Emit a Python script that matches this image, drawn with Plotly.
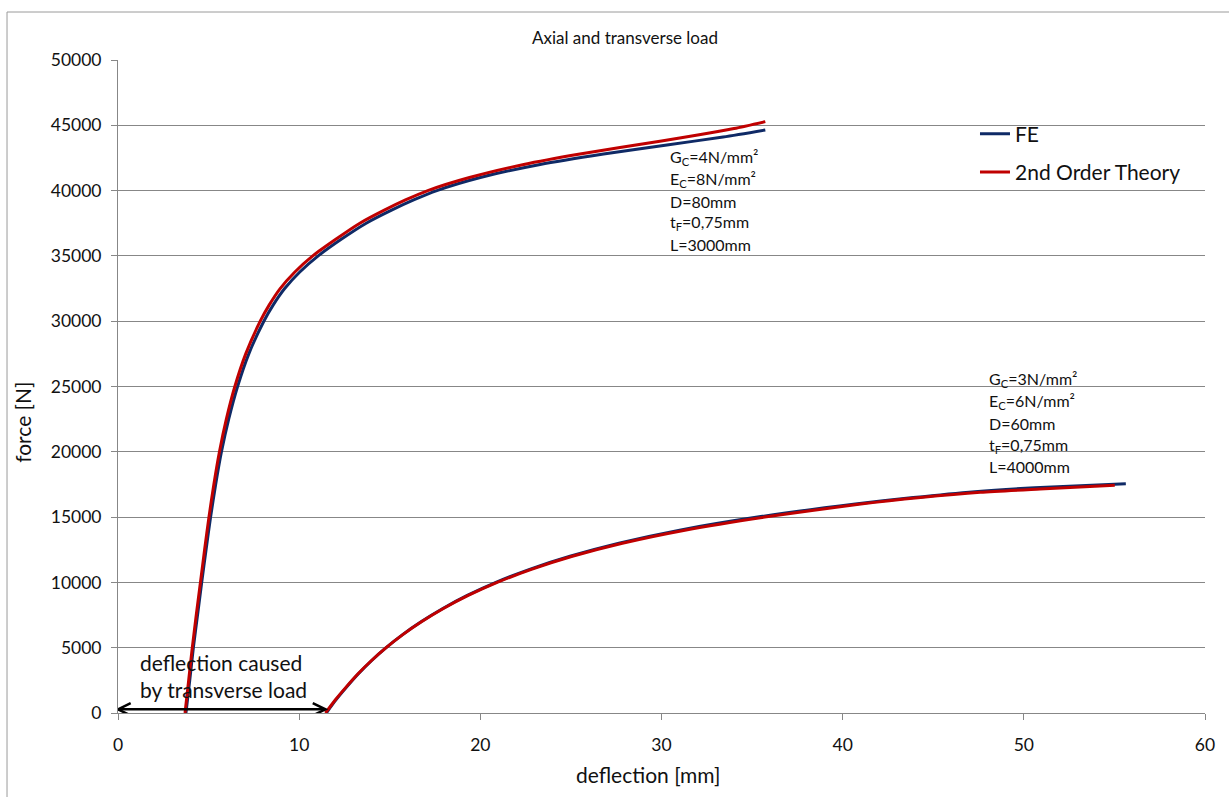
import plotly.graph_objects as go

# Sandwich column A: G_C=4, E_C=8, D=80, L=3000
fe_a_x = [3.75, 3.96, 4.16, 4.39, 4.62, 4.86, 5.11, 5.39, 5.71, 6.11, 6.60, 7.22, 8.05,
          8.57, 9.2, 10.02, 11.05, 12.3, 13.7, 15.1, 16.35, 17.6, 20.0, 23.3, 26.8, 30.3,
          33.4, 35.73]
fe_a_y = [0, 2500, 5000, 7500, 10000, 12500, 15000, 17500, 20000, 22500, 25000, 27500, 30000,
          31250, 32500, 33750, 35000, 36250, 37500, 38500, 39300, 40000, 41000, 42000, 42800, 43500,
          44100, 44640]
th_a_x = [3.70, 3.90, 4.10, 4.32, 4.55, 4.78, 5.02, 5.29, 5.60, 5.98, 6.45, 7.05, 7.85,
          8.35, 8.95, 9.75, 10.75, 12.0, 13.35, 14.7, 15.9, 17.1, 19.4, 22.4, 25.5, 30.0,
          32.0, 34.0, 35.73]
th_a_y = [0, 2500, 5000, 7500, 10000, 12500, 15000, 17500, 20000, 22500, 25000, 27500, 30000,
          31250, 32500, 33750, 35000, 36250, 37500, 38500, 39300, 40000, 41000, 42000, 42800, 43800,
          44250, 44750, 45280]

# Sandwich column B: G_C=3, E_C=6, D=60, L=4000
fe_b_x = [11.5, 12.03, 12.63, 13.27, 13.99, 14.8, 15.71, 16.75, 17.93, 19.28, 20.86, 22.72,
          24.95, 27.65, 31.0, 35.3, 40.7, 43.9, 47.3, 50.6, 55.63]
fe_b_y = [0, 1000, 2000, 3000, 4000, 5000, 6000, 7000, 8000, 9000, 10000, 11000,
          12000, 13000, 14000, 15000, 16000, 16500, 16950, 17250, 17560]
th_b_x = [11.45, 11.99, 12.6, 13.25, 13.98, 14.8, 15.72, 16.77, 17.96, 19.33, 20.93, 22.82,
          25.08, 27.84, 31.29, 35.7, 41.0, 44.3, 47.6, 50.9, 55.02]
th_b_y = [0, 1000, 2000, 3000, 4000, 5000, 6000, 7000, 8000, 9000, 10000, 11000,
          12000, 13000, 14000, 15000, 16000, 16500, 16900, 17150, 17430]

x_ticks = [0, 10, 20, 30, 40, 50, 60]
y_ticks = [0, 5000, 10000, 15000, 20000, 25000, 30000, 35000, 40000, 45000, 50000]

params_a = ["G<sub>C</sub>=4N/mm²", "E<sub>C</sub>=8N/mm²", "D=80mm", "t<sub>F</sub>=0,75mm", "L=3000mm"]
params_b = ["G<sub>C</sub>=3N/mm²", "E<sub>C</sub>=6N/mm²", "D=60mm", "t<sub>F</sub>=0,75mm", "L=4000mm"]

FE_COLOR = "#0f2a66"
TH_COLOR = "#c00000"
GRID = "#878787"
FONT = "Lato"
TEXT = "#111111"

fig = go.Figure()

def add_curve(x, y, color, name, show):
    fig.add_trace(go.Scatter(
        x=x, y=y, mode="lines", name=name, legendgroup=name, showlegend=show,
        line=dict(color=color, width=3, shape="spline", smoothing=0.7),
        hoverinfo="skip",
    ))

add_curve(fe_a_x, fe_a_y, FE_COLOR, "FE", True)
add_curve(fe_b_x, fe_b_y, FE_COLOR, "FE", False)
add_curve(th_a_x, th_a_y, TH_COLOR, "2nd Order Theory", True)
add_curve(th_b_x, th_b_y, TH_COLOR, "2nd Order Theory", False)

annotations = []

# parameter blocks next to each pair of curves
def add_params(lines, x0, y_top, step):
    for i, t in enumerate(lines):
        annotations.append(dict(
            x=x0, y=y_top - i * step, xref="x", yref="y", text=t, showarrow=False,
            xanchor="left", yanchor="middle", font=dict(family=FONT, size=16, color=TEXT),
        ))

add_params(params_a, 30.35, 42500, 1650)
add_params(params_b, 47.96, 25500, 1665)

annotations.append(dict(
    x=1.1, y=2830, xref="x", yref="y", xanchor="left", yanchor="middle",
    text="deflection caused<br>by transverse load", showarrow=False, align="left",
    font=dict(family=FONT, size=21, color=TEXT),
))

annotations.append(dict(
    x=0.4664, y=1.0337, xref="paper", yref="paper", text="Axial and transverse load",
    xanchor="center", yanchor="middle",
    showarrow=False, font=dict(family=FONT, size=17, color=TEXT),
))
annotations.append(dict(
    x=0.4876, y=-0.0949, xref="paper", yref="paper", text="deflection [mm]",
    xanchor="center", yanchor="middle",
    showarrow=False, font=dict(family=FONT, size=21, color=TEXT),
))
annotations.append(dict(
    x=-0.0885, y=0.4456, xref="paper", yref="paper", text="force [N]", textangle=-90,
    xanchor="center", yanchor="middle",
    showarrow=False, font=dict(family=FONT, size=21, color=TEXT),
))

# double-headed arrow spanning the initial deflection of column B
x_start = th_b_x[0]
ya = 280
hx, hy = 0.7, 470
shapes = [
    dict(type="line", xref="x", yref="y", x0=0, x1=x_start, y0=ya, y1=ya,
         line=dict(color="black", width=2.5)),
    dict(type="path", xref="x", yref="y",
         path=f"M {hx},{ya + hy} L 0,{ya} L {hx},{ya - hy}",
         line=dict(color="black", width=2.5)),
    dict(type="path", xref="x", yref="y",
         path=f"M {x_start - hx},{ya + hy} L {x_start},{ya} L {x_start - hx},{ya - hy}",
         line=dict(color="black", width=2.5)),
    # outer chart frame
    dict(type="line", xref="paper", yref="paper", x0=-0.1021, x1=-0.1021, y0=-0.3, y1=1.0735,
         line=dict(color="#9a9a9a", width=1)),
    dict(type="line", xref="paper", yref="paper", x0=-0.1021, x1=1.2, y0=1.0735, y1=1.0735,
         line=dict(color="#9a9a9a", width=1)),
]

fig.update_layout(
    width=1229, height=797,
    margin=dict(l=118, r=24, t=60, b=84),
    paper_bgcolor="white", plot_bgcolor="white",
    font=dict(family=FONT, size=17, color=TEXT),
    showlegend=True,
    legend=dict(
        x=0.7884, y=0.918, xanchor="left", yanchor="top",
        font=dict(family=FONT, size=21, color=TEXT),
        bgcolor="rgba(0,0,0,0)", traceorder="grouped", tracegroupgap=8,
        itemwidth=30,
    ),
    annotations=annotations,
    shapes=shapes,
)

fig.update_xaxes(
    range=[0, 60], tickvals=x_ticks, ticktext=[str(v) for v in x_ticks],
    showgrid=False, zeroline=False, showline=True, linecolor=GRID, linewidth=1,
    ticks="outside", ticklen=6, tickcolor=GRID, tickfont=dict(family=FONT, size=17.5),
    ticklabelstandoff=10,
)
fig.update_yaxes(
    range=[0, 50000], tickvals=y_ticks, ticktext=[str(v) for v in y_ticks],
    showgrid=True, gridcolor=GRID, gridwidth=1, zeroline=False,
    showline=True, linecolor=GRID, linewidth=1,
    ticks="outside", ticklen=6, tickcolor=GRID, tickfont=dict(family=FONT, size=17.5),
    ticklabelstandoff=6,
)

fig.write_html("out.html")
